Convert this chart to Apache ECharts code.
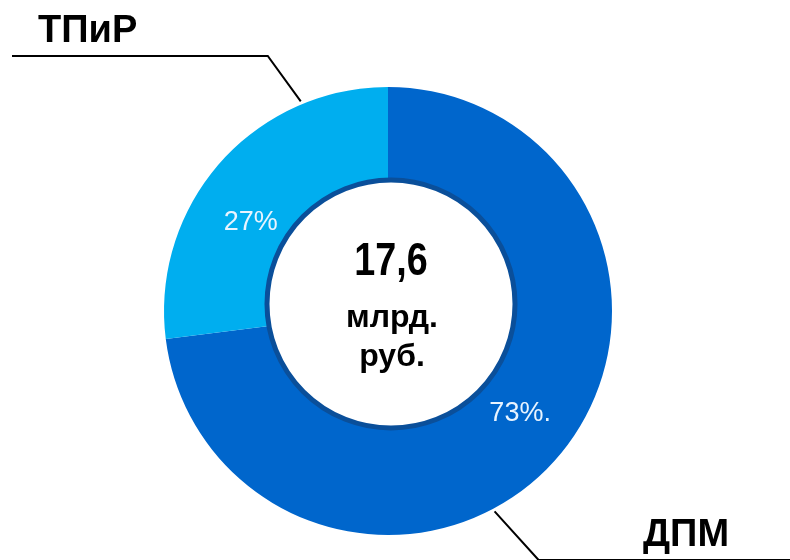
<!DOCTYPE html>
<html><head><meta charset="utf-8">
<script src="https://cdn.jsdelivr.net/npm/echarts@6/dist/echarts.min.js"></script>
<style>html,body{margin:0;padding:0;background:#fff}#c{width:790px;height:560px}</style>
</head><body><div id="c"></div>
<script>
// ---- data ----
const categories = ['ДПМ', 'ТПиР'];
const shares = [73, 27];
const shareLabels = ['73%.', '27%'];
const totalValue = '17,6';
const totalUnit = ['млрд.', 'руб.'];

// ---- layout / style ----
const FONT = '"Liberation Sans Narrow", "Arial Narrow", "Liberation Sans", Arial, sans-serif';
const CX = 388, CY = 311, R_OUT = 224, R_IN = 112;
const colors = ['#0066cc', '#00aeef'];
const callouts = [
  {angle: -62, elbow: [44, 48.6], endX: 792, textX: 643, textY: 536},
  {angle: 112.6, elbow: [-33, -45.5], endX: 12, textX: 38, textY: 32}
];
const pctPos = [{angle: -37.7, r: 167}, {angle: 147.3, r: 163}];

const chart = echarts.init(document.getElementById('c'), null, {renderer: 'canvas'});
const ringData = categories.map((n, i) => ({name: n, value: shares[i], itemStyle: {color: colors[i]}}));

chart.setOption({
  animation: false,
  series: [
    {
      type: 'pie', center: [CX, CY], radius: [R_IN, R_OUT],
      startAngle: 90, clockwise: true, silent: true, avoidLabelOverlap: false,
      data: ringData,
      label: {
        show: true, position: 'inside',
        formatter: p => shareLabels[p.dataIndex],
        color: '#e8f4ff', fontSize: 27, fontFamily: FONT, fontWeight: 'normal'
      },
      labelLine: {show: false},
      labelLayout: p => {
        const c = pctPos[p.dataIndex], a = c.angle * Math.PI / 180;
        return {x: CX + c.r * Math.cos(a), y: CY - c.r * Math.sin(a), align: 'center', verticalAlign: 'middle'};
      }
    },
    {
      type: 'pie', center: [CX, CY], radius: [R_IN, R_OUT],
      startAngle: 90, clockwise: true, silent: true, avoidLabelOverlap: false,
      data: categories.map((n, i) => ({name: n, value: shares[i]})),
      itemStyle: {color: 'rgba(0,0,0,0)'},
      label: {
        show: true, position: 'outside', formatter: '{b}',
        color: '#000', fontSize: 38, fontWeight: 'bold', fontFamily: FONT
      },
      labelLine: {show: true, lineStyle: {color: '#000', width: 2}},
      labelLayout: p => {
        const c = callouts[p.dataIndex], a = c.angle * Math.PI / 180;
        const sx = CX + (R_OUT + 3) * Math.cos(a), sy = CY - (R_OUT + 3) * Math.sin(a);
        const ex = sx + c.elbow[0], ey = sy + c.elbow[1];
        return {x: c.textX, y: c.textY, align: 'left', verticalAlign: 'middle',
          labelLinePoints: [[sx, sy], [ex, ey], [c.endX, ey]]};
      }
    },
    {
      type: 'pie', center: [391, 304], radius: [0, 124], silent: true,
      data: [{value: 1, name: ''}],
      itemStyle: {color: '#ffffff', borderColor: '#0a4f9a', borderWidth: 5},
      label: {show: false}, labelLine: {show: false}
    }
  ],
  graphic: [
    {type: 'text', x: 391, y: 262, scaleX: 0.82, z: 100, style: {text: totalValue, fill: '#000', font: 'bold 46px ' + FONT, textAlign: 'center', textVerticalAlign: 'middle', align: 'center', verticalAlign: 'middle'}},
    {type: 'text', x: 392, y: 318, z: 100, style: {text: totalUnit[0], fill: '#000', font: 'bold 32px ' + FONT, textAlign: 'center', textVerticalAlign: 'middle', align: 'center', verticalAlign: 'middle'}},
    {type: 'text', x: 392, y: 357, z: 100, style: {text: totalUnit[1], fill: '#000', font: 'bold 32px ' + FONT, textAlign: 'center', textVerticalAlign: 'middle', align: 'center', verticalAlign: 'middle'}}
  ]
});
</script></body></html>
